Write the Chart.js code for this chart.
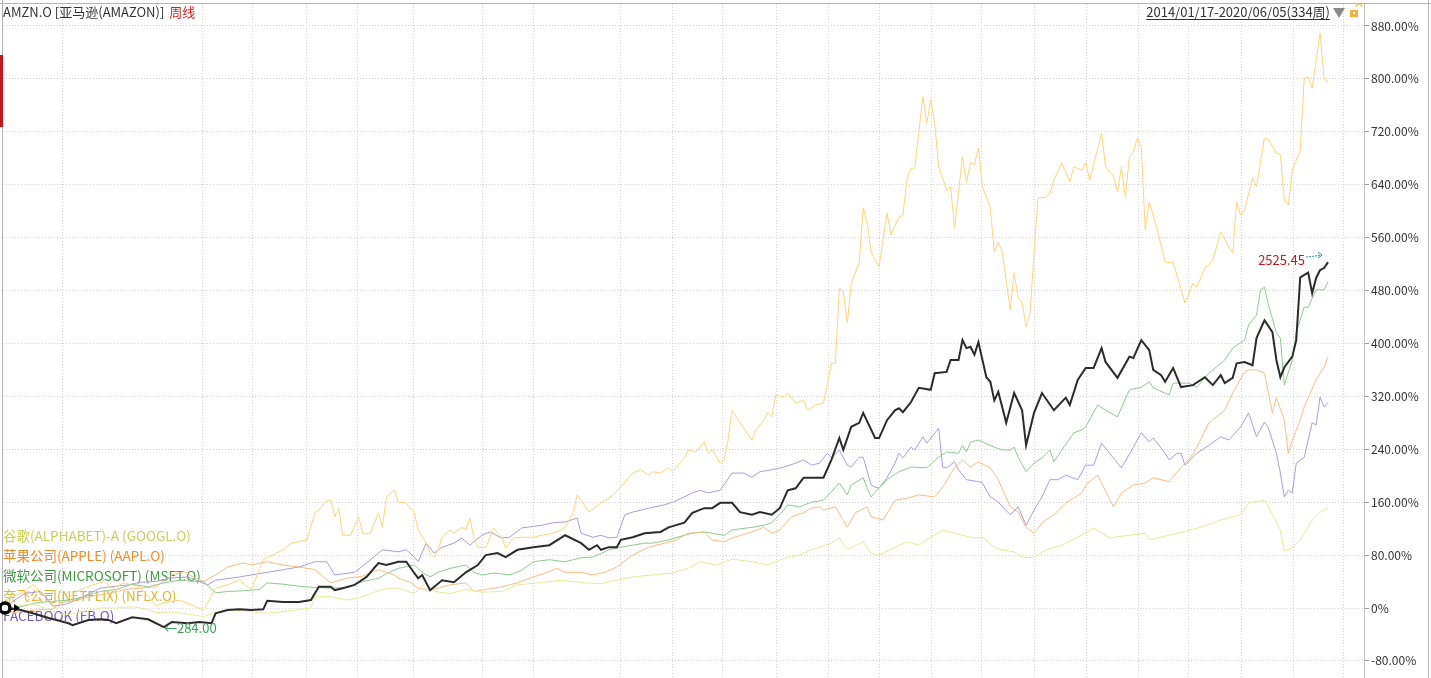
<!DOCTYPE html>
<html>
<head>
<meta charset="utf-8">
<script src="https://cdn.jsdelivr.net/npm/chart.js@4.4.1/dist/chart.umd.min.js"></script>
<style>
    html, body { margin: 0; padding: 0; background: #fff; overflow: hidden; }
    canvas { display: block; }
</style>
</head>
<body>
<canvas id="perfChart" width="1431" height="678"></canvas>
<script>
// Weekly cumulative return (%) since 2014/01/17, week index 0..333
const yTicks = [-80, 0, 80, 160, 240, 320, 400, 480, 560, 640, 720, 800, 880];
const xGridWeeks = [14.6, 49.8, 62.4, 76.0, 88.8, 102.7, 120.1, 132.9, 154.8, 167.9, 180.7, 194.1,
    207.2, 220.0, 233.1, 245.9, 259.0, 272.1, 285.2, 298.0, 311.1, 324.2, 337.0];

const seriesNames = ["谷歌(ALPHABET)-A (GOOGL.O)", "苹果公司(APPLE) (AAPL.O)", "微软公司(MICROSOFT) (MSFT.O)",
    "奈飞公司(NETFLIX) (NFLX.O)", "FACEBOOK (FB.O)"];

const amznWeek = [0,4,7,11,16,17,21,24,26,28,32,36,40,42,46,49,52,53,56,59,62,65,66,70,74,77,79,82,83,85,
    88,89,91,94,96,99,101,103,104,105,107,110,113,116,119,121,124,126,129,133,137,141,145,147,149,150,152,154,155,158,
    161,165,167,171,173,176,178,180,183,185,188,190,193,195,197,199,201,206,208,210,211,213,215,216,219,220,222,224,225,226,
    228,230,233,234,237,238,240,241,242,243,244,245,247,248,249,250,252,254,256,257,259,261,264,267,268,270,272,274,276,277,
    280,283,284,286,288,289,291,292,294,296,299,302,304,306,307,309,310,312,314,315,317,319,320,321,322,324,325,326,328,329,
    330,331,332,333];
const amznPct = [0,-3,-8,-15,-23,-26,-18,-17,-18,-23,-14,-17,-29,-21,-23,-21,-23,-8,-3,-2,-3,-2,11,9,9,12,32,32,27,30,
    35,39,47,68,65,70,70,53,45,50,27,42,39,54,65,80,83,77,88,92,95,110,98,88,95,88,92,92,103,107,
    113,115,122,129,144,151,151,159,159,145,141,145,141,151,178,181,197,197,224,257,239,274,280,295,257,257,284,299,302,296,
    311,333,330,355,357,375,375,405,393,395,383,402,349,342,314,327,280,325,299,246,295,325,299,318,307,345,363,363,393,372,
    348,380,378,405,390,360,352,342,363,334,337,349,337,352,340,348,370,372,367,408,435,417,375,349,364,380,405,500,507,476,
    499,511,514,523];

const nflxWeek = [0,1,4,7,10,13,15,18,22,25,27,30,34,38,40,44,48,50,53,56,59,62,65,70,72,76,78,79,81,82,
    83,84,85,87,89,90,92,94,95,96,98,99,101,103,104,106,107,108,109,110,112,113,115,116,117,118,119,121,123,125,
    126,128,130,133,135,138,140,141,143,144,145,147,150,152,153,155,157,158,160,162,163,165,167,168,171,172,174,176,177,178,
    180,181,182,183,185,188,189,191,192,193,194,196,197,199,201,202,204,206,208,209,210,211,212,213,215,216,217,218,220,222,
    223,225,226,227,228,229,231,232,233,234,235,237,238,239,241,242,243,244,245,246,248,249,250,251,253,254,255,256,257,258,
    259,260,262,263,264,266,268,269,271,272,273,276,277,279,280,281,282,283,284,285,286,287,288,290,292,293,294,297,299,300,
    302,304,306,308,309,310,311,312,314,315,317,318,320,321,322,323,324,326,327,328,329,331,332,333];
const nflxPct = [0,16,22,35,20,-2,10,25,35,40,30,38,32,3,8,12,2,-3,30,35,42,28,73,88,98,103,144,148,163,163,
    138,151,110,110,138,113,113,144,122,168,178,160,159,144,118,98,83,77,88,107,118,113,122,118,136,107,92,91,121,107,
    91,106,107,107,110,113,118,122,144,171,163,145,159,166,171,183,197,204,209,201,206,204,212,206,227,239,236,251,234,239,
    219,224,254,299,280,254,269,284,296,289,322,319,325,310,314,299,307,310,370,370,484,478,431,491,522,605,582,538,516,597,
    564,591,594,647,665,665,773,733,768,733,667,632,637,575,682,643,674,670,696,637,605,538,553,538,451,507,469,463,425,446,
    537,620,621,627,647,673,644,667,662,674,647,718,667,652,629,667,621,682,689,711,696,572,614,572,523,522,523,461,491,485,
    514,526,569,546,537,614,594,602,650,637,711,708,688,685,617,609,662,692,801,803,786,869,801,794];

const msftWeek = [0,4,8,12,16,20,24,28,32,36,40,44,48,50,53,56,60,64,66,70,74,78,82,86,90,94,96,99,103,105,
    107,109,112,116,118,120,123,127,130,133,137,141,145,148,152,155,158,161,163,167,171,173,176,178,181,183,188,191,193,196,
    197,200,203,206,210,212,213,216,217,218,219,222,225,228,232,235,237,240,241,242,243,245,249,251,253,254,255,257,259,261,
    263,264,266,269,271,272,275,277,280,283,286,288,289,293,294,298,300,303,307,309,312,313,315,316,317,318,320,321,322,324,
    325,327,328,330,332,333];
const msftPct = [0,2,8,10,12,17,25,28,36,32,38,42,40,40,23,25,26,28,38,36,33,31,30,31,40,45,52,60,65,54,
    47,54,60,65,54,50,53,50,57,70,73,70,76,77,88,92,95,98,98,103,110,113,115,113,110,118,122,125,129,148,
    156,153,160,163,189,171,186,197,181,168,175,194,206,213,212,228,236,234,246,236,251,254,243,239,239,243,228,206,219,227,
    239,221,239,265,269,274,307,299,289,330,334,342,333,322,340,340,334,355,375,393,405,428,443,481,485,458,416,408,337,375,
    417,455,455,481,481,493];

const aaplWeek = [0,2,5,8,12,14,18,22,26,30,34,38,42,45,48,50,53,56,60,62,66,70,74,78,82,86,90,94,98,99,
    102,104,107,112,116,118,120,125,129,133,136,139,141,145,148,151,154,158,162,166,169,172,176,178,181,183,188,191,193,195,
    198,201,203,205,206,209,212,214,217,218,221,224,227,230,234,236,239,241,243,245,248,250,253,255,257,259,261,264,267,271,
    272,275,276,279,281,284,287,289,293,296,298,300,303,307,309,312,313,315,317,318,319,320,322,323,324,326,327,330,331,332,
    333];
const aaplPct = [0,-7,-5,-3,-2,8,12,18,22,28,30,32,50,55,45,40,50,62,68,65,70,65,62,58,38,45,48,58,50,45,
    39,30,27,35,38,25,27,32,38,47,53,60,54,54,50,54,62,80,92,98,103,113,115,103,100,106,115,122,113,118,
    138,144,151,153,148,153,122,144,153,138,133,163,166,171,168,183,212,224,213,221,212,194,153,145,122,113,129,141,159,174,
    186,201,189,153,174,186,189,197,191,213,224,243,280,299,325,357,360,360,355,325,295,318,284,234,254,284,304,345,355,364,
    380];

const fbWeek = [0,2,5,9,12,15,19,24,28,31,34,38,41,46,51,53,59,66,74,78,81,83,88,91,95,99,101,103,104,106,
    108,110,113,115,117,120,122,125,127,130,135,138,141,144,145,148,150,152,154,156,158,162,166,168,171,173,175,177,180,183,
    186,188,190,193,196,199,201,203,205,207,208,210,212,213,215,216,218,219,220,222,224,225,226,228,229,231,232,235,236,237,
    239,240,242,245,246,248,250,253,255,257,259,261,263,265,267,270,272,274,276,278,281,284,286,288,289,292,293,295,296,297,
    300,303,306,308,311,313,315,317,318,320,321,322,323,324,325,327,328,329,330,331,332,333];
const fbPct = [0,10,22,25,3,5,15,30,33,35,39,40,45,47,35,42,47,54,62,70,70,50,54,68,88,85,88,77,70,98,
    83,92,98,106,95,110,115,106,107,121,125,129,130,136,113,107,110,106,107,141,145,151,156,160,168,174,178,174,178,204,
    204,198,206,209,213,219,224,216,219,234,227,239,216,213,228,228,186,183,181,197,219,234,227,243,239,259,249,272,213,212,
    221,209,194,191,189,168,160,141,153,125,148,168,194,194,201,194,216,216,249,234,212,243,265,251,257,234,224,234,234,216,
    234,246,259,254,274,295,259,281,272,234,204,168,178,174,219,228,254,280,277,319,304,311];

const googWeek = [0,3,7,10,13,16,20,24,28,32,35,38,42,46,50,53,57,61,65,69,73,77,78,82,86,89,92,95,97,99,
    103,106,108,112,116,120,125,129,134,140,146,150,154,158,163,168,172,175,179,183,188,192,196,200,203,208,210,212,216,218,
    220,224,227,230,233,236,239,241,244,246,249,251,254,256,259,262,266,270,274,278,283,287,288,295,301,306,311,313,317,318,
    321,322,324,326,329,331,333];
const googPct = [0,4,6,0,-8,-10,-5,0,0,2,-1,-7,-6,-9,-13,-7,-3,-5,-8,-6,-3,0,18,17,12,15,22,28,30,30,
    22,38,25,22,28,24,25,35,38,42,38,37,42,47,50,53,60,70,65,74,70,65,75,80,88,98,106,88,100,83,
    80,92,100,95,107,118,113,110,106,107,92,88,85,77,76,88,95,107,121,106,110,113,103,113,122,133,141,159,163,153,
    118,86,91,103,133,145,151];

const toPoints = (weeks, pct) => weeks.map((w, i) => ({ x: w, y: pct[i] }));

// name colours for the text block, lighter tones for the lines
const nameColors = ["#c9cf55", "#f08c22", "#3d9a40", "#e6b22a", "#7259b8"];
const lineColors = ["#e6eb9c", "#f8bd84", "#8fc98f", "#fcd679", "#aa9cdb"];

const decorPlugin = {
    id: "decor",
    beforeDatasetsDraw(chart) {
        const ctx = chart.ctx;
        ctx.save();
        ctx.font = '13.5px "Noto Sans CJK SC", sans-serif';
        ctx.textBaseline = "middle";
        seriesNames.forEach((name, i) => {
            ctx.fillStyle = nameColors[i];
            ctx.fillText(name, 3, 536 + i * 20);
        });
        ctx.restore();
    },
    afterDraw(chart) {
        const ctx = chart.ctx;
        const xs = chart.scales.x, ys = chart.scales.y;
        ctx.save();

        // frame lines
        ctx.strokeStyle = "#b4b4b4";
        ctx.lineWidth = 1;
        ctx.beginPath();
        ctx.moveTo(0, 3.5); ctx.lineTo(1431, 3.5);
        ctx.moveTo(2.5, 0); ctx.lineTo(2.5, 678);
        ctx.moveTo(1428.5, 0); ctx.lineTo(1428.5, 678);
        ctx.stroke();
        ctx.fillStyle = "#c8161d";
        ctx.fillRect(0, 55, 3, 72);

        // header
        ctx.font = '13px "Noto Sans CJK SC", sans-serif';
        ctx.textBaseline = "middle";
        ctx.fillStyle = "#333";
        const title = "AMZN.O [亚马逊(AMAZON)]";
        ctx.fillText(title, 3, 12);
        const tw = ctx.measureText(title).width;
        ctx.fillStyle = "#d21e1e";
        ctx.fillText("周线", 3 + tw + 5, 12);

        const range = "2014/01/17-2020/06/05(334周)";
        ctx.fillStyle = "#333";
        ctx.textAlign = "right";
        ctx.fillText(range, 1330, 12);
        const rw = ctx.measureText(range).width;
        ctx.fillRect(1330 - rw, 19, rw, 1);
        ctx.textAlign = "left";

        ctx.fillStyle = "#8a8a8a";
        ctx.beginPath();
        ctx.moveTo(1333, 8); ctx.lineTo(1345, 8); ctx.lineTo(1339, 18); ctx.closePath();
        ctx.fill();
        ctx.fillStyle = "#f0b43c";
        ctx.fillRect(1350, 10, 8, 7);
        ctx.strokeStyle = "#f0b43c";
        ctx.beginPath();
        ctx.arc(1359, 7, 3, Math.PI, 0);
        ctx.stroke();
        ctx.fillStyle = "#fff";
        ctx.fillRect(1353, 12, 2, 2);

        // start marker
        const sx = xs.getPixelForValue(amznWeek[0]), sy = ys.getPixelForValue(amznPct[0]);
        ctx.fillStyle = "#fff";
        ctx.strokeStyle = "#000";
        ctx.lineWidth = 3.5;
        ctx.beginPath();
        ctx.arc(sx, sy, 5, 0, Math.PI * 2);
        ctx.fill();
        ctx.stroke();
        ctx.fillStyle = "#000";
        ctx.beginPath();
        ctx.moveTo(sx + 9, sy - 4); ctx.lineTo(sx + 15, sy); ctx.lineTo(sx + 9, sy + 4); ctx.closePath();
        ctx.fill();

        // minimum label
        const minIdx = amznPct.indexOf(Math.min(...amznPct));
        const mx = xs.getPixelForValue(amznWeek[minIdx]), my = ys.getPixelForValue(amznPct[minIdx]);
        ctx.font = '13px "Noto Sans CJK SC", sans-serif';
        ctx.fillStyle = "#3f9f5a";
        ctx.fillText("←284.00", mx, my + 1);

        // latest / high label
        const ex = xs.getPixelForValue(amznWeek[amznWeek.length - 1]);
        const ey = ys.getPixelForValue(amznPct[amznPct.length - 1]);
        ctx.fillStyle = "#c8161d";
        ctx.textAlign = "right";
        ctx.fillText("2525.45", ex - 23, ey - 2);
        ctx.strokeStyle = "#2f8fa8";
        ctx.lineWidth = 1;
        ctx.setLineDash([2, 1]);
        ctx.beginPath();
        ctx.moveTo(ex - 22, ey - 5); ctx.lineTo(ex - 6, ey - 7);
        ctx.stroke();
        ctx.setLineDash([]);
        ctx.beginPath();
        ctx.moveTo(ex - 10, ey - 10); ctx.lineTo(ex - 6, ey - 7); ctx.lineTo(ex - 10, ey - 4);
        ctx.stroke();
        ctx.restore();
    }
};

new Chart(document.getElementById("perfChart"), {
    type: "line",
    data: {
        datasets: [
            { label: "AMZN.O", data: toPoints(amznWeek, amznPct), borderColor: "#2b2b2b", borderWidth: 2 },
            { label: "GOOGL.O", data: toPoints(googWeek, googPct), borderColor: lineColors[0], borderWidth: 1 },
            { label: "AAPL.O", data: toPoints(aaplWeek, aaplPct), borderColor: lineColors[1], borderWidth: 1 },
            { label: "MSFT.O", data: toPoints(msftWeek, msftPct), borderColor: lineColors[2], borderWidth: 1 },
            { label: "NFLX.O", data: toPoints(nflxWeek, nflxPct), borderColor: lineColors[3], borderWidth: 1 },
            { label: "FB.O", data: toPoints(fbWeek, fbPct), borderColor: lineColors[4], borderWidth: 1 }
        ]
    },
    options: {
        responsive: false,
        animation: false,
        layout: { padding: { top: 4, left: 3, right: 0, bottom: 0 } },
        elements: { point: { radius: 0 }, line: { tension: 0, fill: false } },
        plugins: { legend: { display: false }, tooltip: { enabled: false } },
        scales: {
            x: {
                type: "linear",
                min: -0.5,
                max: 342.05,
                afterBuildTicks: s => { s.ticks = xGridWeeks.map(v => ({ value: v })); },
                afterFit: s => { s.height = 0; s.paddingLeft = 0; s.paddingRight = 0; },
                ticks: { display: false },
                grid: { color: "#d2d2d2", drawTicks: false },
                border: { display: false, dash: [1, 2] }
            },
            y: {
                position: "right",
                min: -105.8,
                max: 913.2,
                afterBuildTicks: s => { s.ticks = yTicks.map(v => ({ value: v })); },
                afterFit: s => { s.width = 67; s.paddingTop = 0; s.paddingBottom = 0; },
                ticks: {
                    color: "#333",
                    padding: 2,
                    font: { family: '"Noto Sans CJK SC", sans-serif', size: 12 },
                    callback: v => v === 0 ? "0%" : v.toFixed(2) + "%"
                },
                grid: { color: "#d2d2d2", tickLength: 5, tickColor: "#9a9a9a", tickBorderDash: [] },
                border: { display: true, color: "#c4c4c4", width: 1, dash: [1, 2] }
            }
        }
    },
    plugins: [decorPlugin]
});
</script>
</body>
</html>
